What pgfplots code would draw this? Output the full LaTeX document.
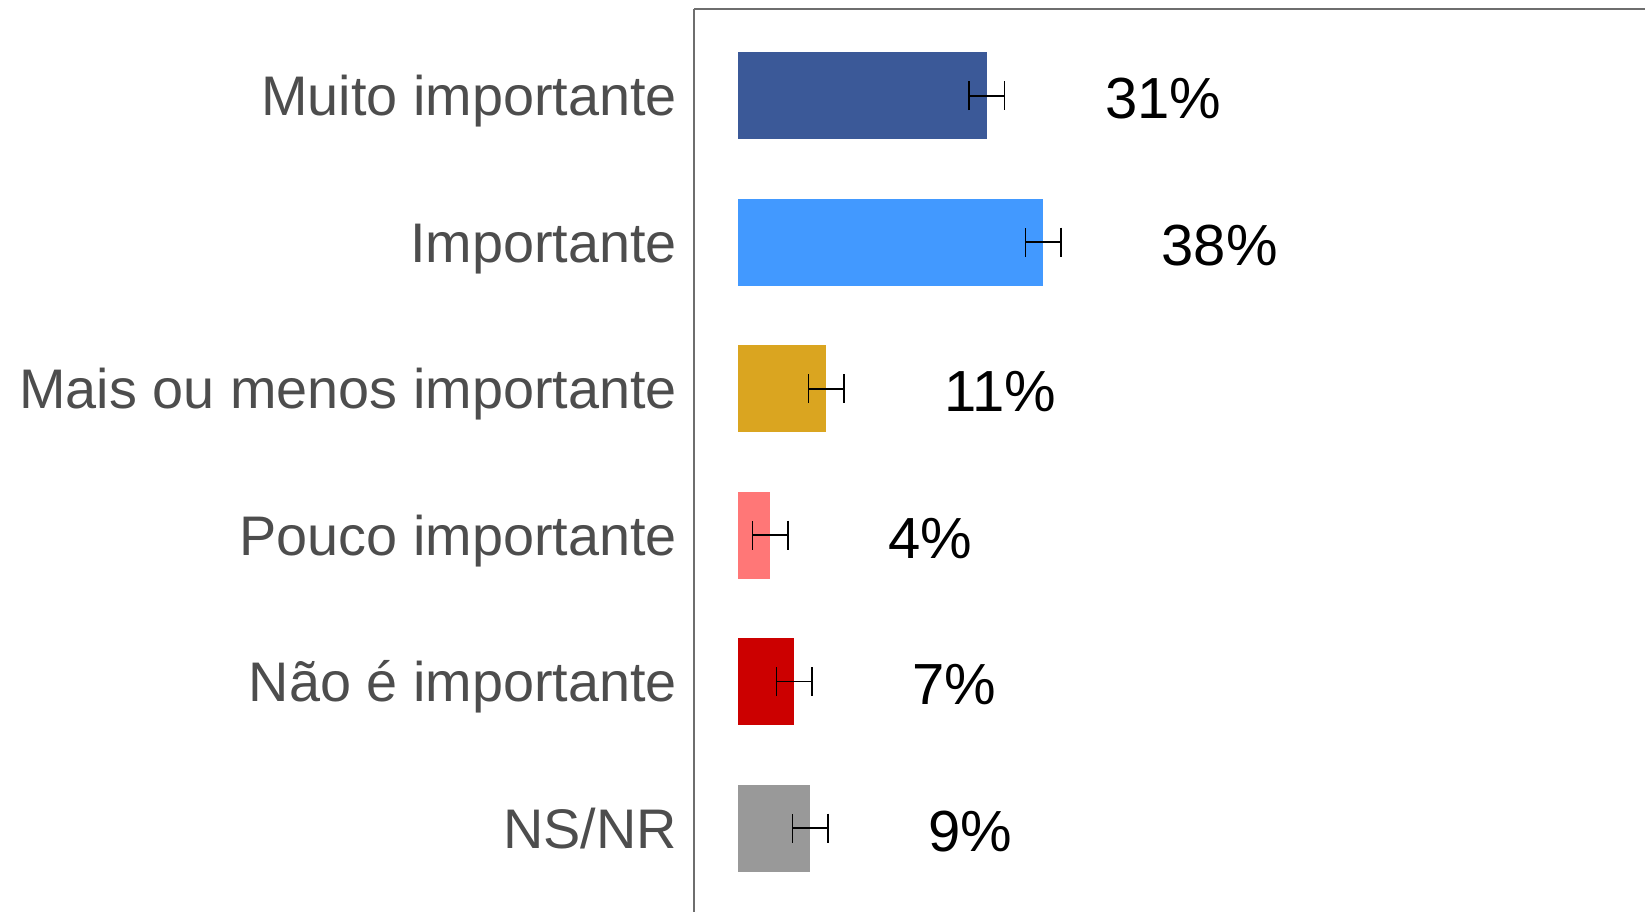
\documentclass[border=0pt]{standalone}
\usepackage{pgfplots}
\pgfplotsset{compat=1.18}
\usepackage{fontspec}
\setmainfont{Liberation Sans}
\definecolor{c1}{RGB}{59,89,152}
\definecolor{c2}{RGB}{66,153,255}
\definecolor{c3}{RGB}{218,165,32}
\definecolor{c4}{RGB}{255,119,119}
\definecolor{c5}{RGB}{204,0,0}
\definecolor{c6}{RGB}{153,153,153}
\definecolor{labgray}{RGB}{77,77,77}
\definecolor{axgray}{RGB}{110,110,110}
\begin{document}
\begin{tikzpicture}
\begin{axis}[
  name=ax,
  at={(0,0)}, anchor=south west,
  scale only axis,
  width=475.35pt, height=451.35pt,
  xmin=-5.44, xmax=112.95,
  ymin=-0.59, ymax=5.573,
  y dir=reverse,
  axis x line*=top, axis y line*=left,
  axis line style={axgray, line width=1pt, -},
  xtick=\empty,
  ytick={0,1,2,3,4,5},
  yticklabels={Muito importante, Importante, Mais ou menos importante, Pouco importante, Não é importante, NS/NR},
  major tick length=0pt,
  yticklabel style={font=\fontsize{27.9}{30}\selectfont, text=labgray, inner sep=0pt, anchor=base east, xshift=-8.5pt, yshift=-10pt},
  xbar, bar width=43.5pt, bar shift=0pt,
  nodes near coords,
  nodes near coords style={font=\fontsize{29}{32}\selectfont, text=black, anchor=base west, inner sep=0pt, xshift=59pt, yshift=-11.5pt},
  point meta=explicit symbolic,
  clip=false,
  error bars/x dir=both, error bars/x explicit,
  error bars/error bar style={black, line width=0.85pt},
  error bars/error mark options={black, line width=0.85pt, mark size=7.25pt, rotate=90},
]
\addplot[fill=c1, draw=none] coordinates {(31,0) +- (2.2,0) [31\%]};
\addplot[fill=c2, draw=none] coordinates {(38,1) +- (2.2,0) [38\%]};
\addplot[fill=c3, draw=none] coordinates {(11,2) +- (2.2,0) [11\%]};
\addplot[fill=c4, draw=none] coordinates {(4,3) +- (2.2,0) [4\%]};
\addplot[fill=c5, draw=none] coordinates {(7,4) +- (2.2,0) [7\%]};
\addplot[fill=c6, draw=none] coordinates {(9,5) +- (2.2,0) [9\%]};
\end{axis}
\pgfresetboundingbox
\path (-347.15pt,0pt) rectangle (475.35pt,456pt);
\end{tikzpicture}
\end{document}
